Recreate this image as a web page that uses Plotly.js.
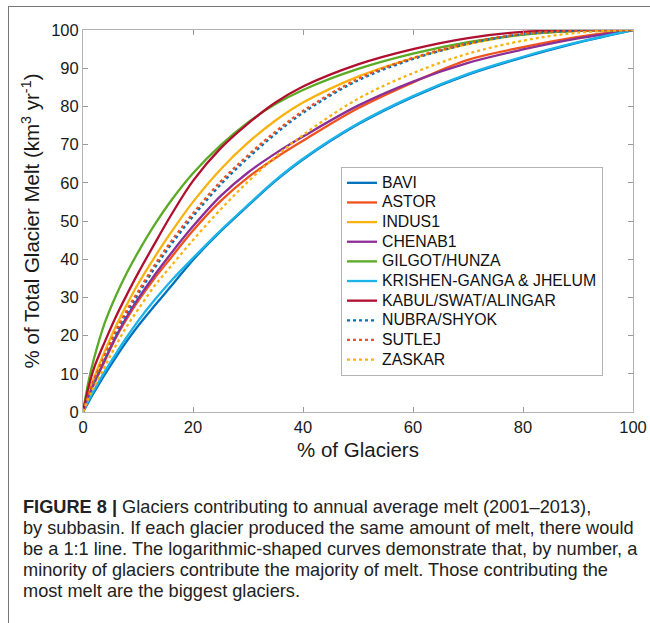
<!DOCTYPE html>
<html>
<head>
<meta charset="utf-8">
<script src="https://cdn.plot.ly/plotly-3.0.1.min.js"></script>
<style>
html,body{margin:0;padding:0;background:#fff;}
#frame{position:absolute;left:8px;top:6px;width:660px;height:640px;border-top:1.5px solid #777;border-left:1.5px solid #777;}
#chart{position:absolute;left:0;top:0;width:650px;height:623px;}
</style>
</head>
<body>
<div id="frame"></div>
<div id="chart"></div>
<script>
// % of glaciers (x) sample positions
const pctGlaciers = [0, 1, 2, 4, 6, 8, 10, 13, 16, 20, 25, 30, 35, 40, 50, 60, 70, 80, 90, 100];

// % of total glacier melt for each subbasin
const BAVI    = [0, 2.6, 5.1, 9.9, 14.4, 18.6, 22.5, 27.8, 32.9, 39.8, 47.3, 54.0, 60.5, 66.1, 75.3, 82.5, 88.3, 92.8, 96.7, 100];
const ASTOR   = [0, 4.0, 7.3, 13.5, 19.5, 24.5, 29.0, 35.0, 40.4, 47.5, 55.2, 61.4, 66.5, 71.0, 79.5, 86.3, 92.2, 95.5, 98.2, 100];
const INDUS1  = [0, 5.0, 9.0, 16.0, 22.5, 28.2, 33.5, 40.5, 47.0, 55.0, 63.5, 70.5, 76.3, 81.0, 87.8, 92.6, 96.3, 98.8, 99.8, 100];
const CHENAB1 = [0, 4.0, 7.5, 13.8, 19.8, 25.0, 29.6, 35.8, 41.5, 48.6, 56.5, 62.7, 67.7, 72.1, 80.2, 86.5, 91.4, 94.9, 97.8, 100];
const GILGOT  = [0, 8.0, 14.0, 23.5, 30.5, 36.5, 41.8, 49.0, 55.3, 62.5, 69.8, 75.8, 80.6, 84.3, 89.8, 93.8, 96.8, 98.8, 99.8, 100];
const KRISHEN = [0, 3.0, 5.7, 10.7, 15.3, 19.7, 23.8, 29.3, 34.3, 40.3, 47.5, 54.2, 60.7, 66.3, 75.5, 82.7, 88.5, 93.0, 96.8, 100];
const KABUL   = [0, 6.5, 11.5, 18.5, 25.0, 30.8, 36.3, 44.0, 51.5, 60.5, 69.0, 75.5, 81.0, 85.2, 91.0, 95.0, 97.9, 99.5, 99.95, 100];
const NUBRA   = [0, 4.3, 8.0, 14.5, 20.7, 26.0, 30.8, 37.6, 43.8, 51.2, 59.5, 66.5, 72.8, 78.3, 86.8, 92.4, 96.4, 98.9, 99.8, 100];
const SUTLEJ  = [0, 4.6, 8.4, 15.0, 21.3, 26.7, 31.5, 38.4, 44.6, 52.0, 60.3, 67.2, 73.4, 78.8, 87.2, 92.7, 96.6, 99.0, 99.85, 100];
const ZASKAR  = [0, 3.5, 6.5, 12.0, 17.5, 22.5, 26.8, 33.0, 38.2, 45.0, 53.0, 60.3, 66.8, 72.5, 82.0, 88.7, 93.8, 97.2, 99.3, 100];

const seriesNames = ['BAVI','ASTOR','INDUS1','CHENAB1','GILGOT/HUNZA','KRISHEN-GANGA &amp; JHELUM','KABUL/SWAT/ALINGAR','NUBRA/SHYOK','SUTLEJ','ZASKAR'];
const seriesData  = [BAVI, ASTOR, INDUS1, CHENAB1, GILGOT, KRISHEN, KABUL, NUBRA, SUTLEJ, ZASKAR];
const seriesColors = ['#0072BD','#F0521D','#FAB20F','#8B2F97','#5BAA25','#1AB4E8','#B0102F','#0072BD','#F0521D','#FAB20F'];
const seriesDash   = ['solid','solid','solid','solid','solid','solid','solid','dot','dot','dot'];

const xTickVals = [0, 20, 40, 60, 80, 100];
const yTickVals = [0, 10, 20, 30, 40, 50, 60, 70, 80, 90, 100];

const captionLines = [
  '<b>FIGURE 8 |</b> Glaciers contributing to annual average melt (2001–2013),',
  'by subbasin. If each glacier produced the same amount of melt, there would',
  'be a 1:1 line. The logarithmic-shaped curves demonstrate that, by number, a',
  'minority of glaciers contribute the majority of melt. Those contributing the',
  'most melt are the biggest glaciers.'
];

const traces = seriesNames.map((n, i) => ({
  x: pctGlaciers,
  y: seriesData[i],
  name: '<span style="font-size:15.8px">' + n + '</span>',
  type: 'scatter',
  mode: 'lines',
  line: {color: seriesColors[i], width: 2.3, dash: seriesDash[i], shape: 'spline', smoothing: 1}
}));

const fontFam = 'Liberation Sans, Arial, Helvetica, sans-serif';
const axisCommon = {
  range: [0, 100],
  tickmode: 'array',
  showline: true,
  linecolor: '#b3b3b3',
  linewidth: 1,
  mirror: 'ticks',
  ticks: 'inside',
  ticklen: 5,
  tickcolor: '#9a9a9a',
  showgrid: false,
  zeroline: false,
  tickfont: {family: fontFam, size: 16.5, color: '#1a1a1a'},
  fixedrange: true
};

const plotL = 83, plotR = 633, plotT = 30, plotB = 412;
const pyToPaper = py => (plotB - py) / (plotB - plotT);
const pxToPaper = px => (px - plotL) / (plotR - plotL);

const captionY = [507, 528, 549, 570, 591];
const annotations = captionLines.map((t, i) => ({
  text: t,
  xref: 'paper', yref: 'paper',
  x: pxToPaper(21), y: pyToPaper(captionY[i]),
  xanchor: 'left', yanchor: 'middle',
  showarrow: false,
  font: {family: fontFam, size: 18.2, color: '#222'}
}));

const layout = {
  width: 650, height: 623,
  margin: {l: plotL, r: 650 - plotR, t: plotT, b: 623 - plotB},
  paper_bgcolor: 'rgba(0,0,0,0)',
  plot_bgcolor: '#ffffff',
  showlegend: true,
  legend: {
    x: pxToPaper(341), y: pyToPaper(167),
    xanchor: 'left', yanchor: 'top',
    bgcolor: '#ffffff',
    bordercolor: '#b3b3b3', borderwidth: 1,
    font: {family: fontFam, size: 12.8, color: '#111'},
    tracegroupgap: 0,
    itemwidth: 30
  },
  xaxis: Object.assign({}, axisCommon, {
    tickvals: xTickVals,
    title: {text: '% of Glaciers', font: {family: fontFam, size: 20.5, color: '#1a1a1a'}, standoff: 7}
  }),
  yaxis: Object.assign({}, axisCommon, {
    tickvals: yTickVals,
    title: {text: '% of Total Glacier Melt (km<sup>3</sup> yr<sup>-1</sup>)', font: {family: fontFam, size: 20.5, color: '#1a1a1a'}, standoff: 5}
  }),
  annotations: annotations
};

Plotly.newPlot('chart', traces, layout, {displayModeBar: false, staticPlot: true});
</script>
</body>
</html>
